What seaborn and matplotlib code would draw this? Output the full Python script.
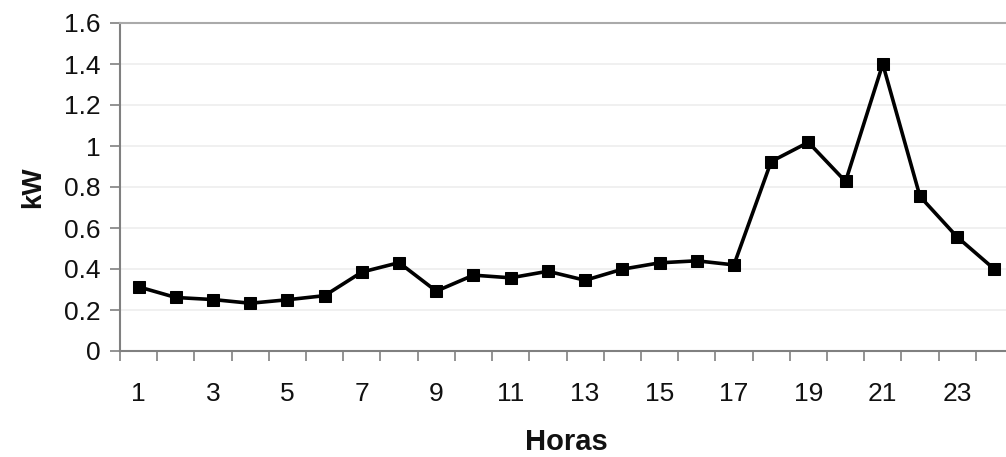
import matplotlib
matplotlib.use("Agg")
import matplotlib.pyplot as plt
import seaborn as sns
import pandas as pd

horas = list(range(1, 25))
kw = [0.313, 0.261, 0.251, 0.233, 0.25, 0.27, 0.385, 0.431, 0.292, 0.37, 0.357, 0.389,
      0.345, 0.399, 0.43, 0.44, 0.42, 0.924, 1.018, 0.827, 1.40, 0.754, 0.556, 0.399]
x_labels = [1, 3, 5, 7, 9, 11, 13, 15, 17, 19, 21, 23]
y_ticks = [0, 0.2, 0.4, 0.6, 0.8, 1.0, 1.2, 1.4, 1.6]

df = pd.DataFrame({"Horas": horas, "kW": kw})

sns.set_style("white")
plt.rcParams["font.family"] = ["Liberation Sans", "DejaVu Sans"]

fig = plt.figure(figsize=(10.06, 4.57), dpi=100)
ax = fig.add_axes([120 / 1006, 106 / 457, 893 / 1006, 328 / 457])

sns.lineplot(data=df, x="Horas", y="kW", ax=ax, color="black", linewidth=2.6,
             marker="s", markersize=8, markeredgecolor="black", markerfacecolor="black")

ax.set_xlim(0.5, 24.5)
ax.set_ylim(0, 1.6)
ax.set_yticks(y_ticks)
ax.set_yticklabels([f"{v:g}" for v in y_ticks])
ax.set_xticks(x_labels)
ax.set_xticklabels([str(v) for v in x_labels])
ax.set_xticks([h + 0.5 for h in range(0, 25)], minor=True)

for y in y_ticks[1:]:
    ax.axhline(y, color="#eeeeee", linewidth=1.2, zorder=0)

ax.spines["right"].set_visible(False)
ax.spines["top"].set_color("#aaaaaa")
ax.spines["top"].set_linewidth(1.5)
for side in ["left", "bottom"]:
    ax.spines[side].set_color("#808080")
    ax.spines[side].set_linewidth(1.5)

ax.tick_params(axis="y", which="major", direction="out", length=7, width=1.2,
               color="#808080", left=True, labelsize=19, pad=7, labelcolor="#111111")
ax.tick_params(axis="x", which="major", length=0, labelsize=19, pad=22, labelcolor="#111111")
ax.tick_params(axis="x", which="minor", direction="out", length=7, width=1.2,
               color="#808080", bottom=True)

ax.set_xlabel("Horas", fontsize=21, fontweight="bold", labelpad=16, color="#111111")
ax.set_ylabel("kW", fontsize=20, fontweight="bold", labelpad=13, color="#111111")

fig.savefig("out.png", dpi=100)
